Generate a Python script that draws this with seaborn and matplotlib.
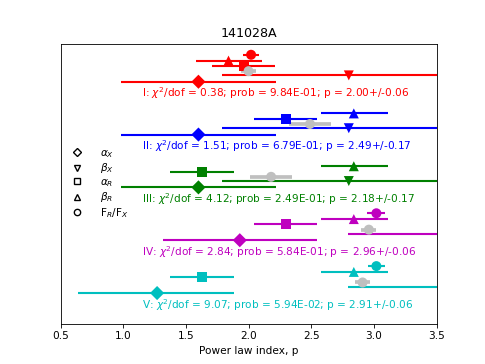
#!/usr/bin/env python3
"""Power law index comparison for GRB 141028A, one row of estimates per epoch."""

import matplotlib

matplotlib.use("Agg")
import matplotlib.pyplot as plt
import pandas as pd
import seaborn as sns
from matplotlib.lines import Line2D

# epochs, fit results
EPOCHS = ["I", "II", "III", "IV", "V"]
EPOCH_COLORS = ["r", "b", "g", "m", "c"]
CHI2_DOF = [0.38, 1.51, 4.12, 2.84, 9.07]
PROB = ["9.84E-01", "6.79E-01", "2.49E-01", "5.84E-01", "5.94E-02"]
P_FIT = [2.00, 2.49, 2.18, 2.96, 2.91]
P_ERR = [0.06, 0.17, 0.17, 0.06, 0.06]

# p inferred from each observable: value, lower, upper (None = not measured)
ALPHA_X = [1.60, 1.60, 1.60, 1.93, 1.27]
ALPHA_X_LO = [0.98, 0.98, 0.98, 1.32, 0.64]
ALPHA_X_HI = [2.22, 2.22, 2.22, 2.55, 1.88]

BETA_X = [2.80, 2.80, 2.80, 3.80, 3.80]
BETA_X_LO = [1.79, 1.79, 1.79, 2.79, 2.79]
BETA_X_HI = [3.81, 3.81, 3.81, 4.81, 4.81]

ALPHA_R = [1.96, 2.30, 1.63, 2.30, 1.63]
ALPHA_R_LO = [1.71, 2.04, 1.37, 2.04, 1.37]
ALPHA_R_HI = [2.21, 2.55, 1.88, 2.55, 1.88]

BETA_R = [1.84, 2.84, 2.84, 2.84, 2.84]
BETA_R_LO = [1.58, 2.58, 2.58, 2.58, 2.58]
BETA_R_HI = [2.11, 3.11, 3.11, 3.11, 3.11]

FLUX_RATIO = [2.02, None, None, 3.02, 3.02]
FLUX_RATIO_LO = [1.955, None, None, 2.945, 2.95]
FLUX_RATIO_HI = [2.085, None, None, 3.09, 3.09]

LEGEND_LABELS = [r"$\alpha_X$", r"$\beta_X$", r"$\alpha_R$", r"$\beta_R$", r"F$_R$/F$_X$"]

ROW_Y = [5, 4, 3, 2, 1]
OFFSETS = {"aX": 0.0, "bX": 0.12, "p": 0.2, "aR": 0.3, "bR": 0.4, "F": 0.51}
MARKERS = {"aX": "D", "bX": "v", "aR": "s", "bR": "^", "F": "o", "p": "o"}


def build_table() -> pd.DataFrame:
    rows = []
    sources = {
        "aX": (ALPHA_X, ALPHA_X_LO, ALPHA_X_HI),
        "bX": (BETA_X, BETA_X_LO, BETA_X_HI),
        "aR": (ALPHA_R, ALPHA_R_LO, ALPHA_R_HI),
        "bR": (BETA_R, BETA_R_LO, BETA_R_HI),
        "F": (FLUX_RATIO, FLUX_RATIO_LO, FLUX_RATIO_HI),
    }
    for i, epoch in enumerate(EPOCHS):
        for key, (vals, los, his) in sources.items():
            if vals[i] is None:
                continue
            rows.append(dict(epoch=epoch, param=key, p=vals[i], lo=los[i], hi=his[i],
                             y=ROW_Y[i] + OFFSETS[key], color=EPOCH_COLORS[i]))
        rows.append(dict(epoch=epoch, param="p", p=P_FIT[i], lo=P_FIT[i] - P_ERR[i],
                         hi=P_FIT[i] + P_ERR[i], y=ROW_Y[i] + OFFSETS["p"], color="#bfbfbf"))
    return pd.DataFrame(rows)


def main() -> None:
    df = build_table()
    dpi = 485 / 6.4
    fig, ax = plt.subplots(figsize=(6.4, 364 / dpi), dpi=dpi)
    fig.subplots_adjust(left=0.125, right=0.9, bottom=0.11, top=0.88)

    for i, epoch in enumerate(EPOCHS):
        sub = df[df["epoch"] == epoch]
        for key in ["aX", "bX", "aR", "bR", "F", "p"]:
            row = sub[sub["param"] == key]
            if row.empty:
                continue
            lw = 3.5 if key == "p" else 2
            ax.hlines(row["y"], row["lo"], row["hi"], color=row["color"].iloc[0], lw=lw, zorder=2)
            sns.scatterplot(data=row, x="p", y="y", marker=MARKERS[key], color=row["color"].iloc[0],
                            s=90, edgecolor="none", legend=False, zorder=3, ax=ax)

        ax.text(1.15, ROW_Y[i] - 0.22,
                rf"{epoch}: $\chi^2$/dof = {CHI2_DOF[i]:.2f}; prob = {PROB[i]}; "
                rf"p = {P_FIT[i]:.2f}+/-{P_ERR[i]:.2f}",
                color=EPOCH_COLORS[i], fontsize=10, ha="left", va="center")

    handles = [Line2D([], [], ls="none", marker=m, color="k", markerfacecolor="none",
                      markersize=6, markeredgewidth=1.3) for m in ["D", "v", "s", "^", "o"]]
    ax.legend(handles, LEGEND_LABELS, loc="center left", frameon=False, handlelength=1.4,
              handletextpad=1.4, labelspacing=0.15, fontsize=10)

    ax.set_xlim(0.5, 3.5)
    ax.set_ylim(0.415, 5.72)
    ax.set_yticks([])
    ax.set_ylabel("")
    ax.set_xlabel("Power law index, p")
    ax.set_title("141028A")
    fig.savefig("out.png", dpi=dpi)
    plt.close(fig)


if __name__ == "__main__":
    main()
